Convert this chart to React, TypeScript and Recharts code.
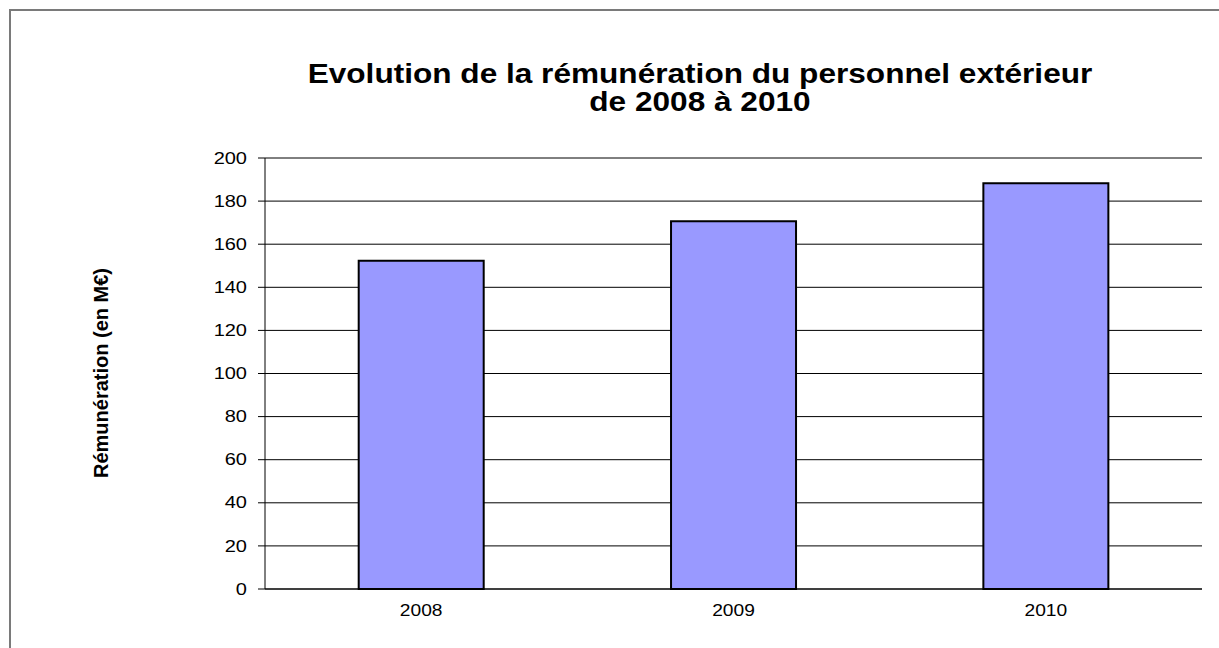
import { BarChart, Bar, XAxis, YAxis, CartesianGrid } from "recharts";

const YEARS = ["2008", "2009", "2010"];
const REMUNERATION = [152.3, 170.6, 188.3];
const Y_TICKS = [0, 20, 40, 60, 80, 100, 120, 140, 160, 180, 200];
const EDGE_TICKS = [0, 1, 2, 3];

const TITLE_LINES = ["Evolution de la rémunération du personnel extérieur", "de 2008 à 2010"];
const Y_LABEL = "Rémunération (en M€)";

const BAR_FILL = "#9999ff";
const FONT = "'Liberation Sans', Arial, sans-serif";

const data = YEARS.map((year, i) => ({ year, value: REMUNERATION[i], edge: i + 0.5 }));

// the reference's labels are a bit wider than plain Arial, so stretch them
function YTick(props: any) {
  const { x, y, payload } = props;
  return (
    <g transform={`translate(${x},${y}) scale(1.25,1)`}>
      <text textAnchor="end" dy="0.355em" fontSize={16} fontFamily={FONT} fill="#000">
        {payload.value}
      </text>
    </g>
  );
}

function XTick(props: any) {
  const { x, y, payload } = props;
  return (
    <g transform={`translate(${x},${y}) scale(1.2,1)`}>
      <text textAnchor="middle" dy="0.71em" fontSize={16} fontFamily={FONT} fill="#000">
        {payload.value}
      </text>
    </g>
  );
}

export default function App() {
  return (
    <div
      style={{
        position: "fixed",
        left: 0,
        top: 0,
        width: 1219,
        height: 648,
        overflow: "hidden",
        background: "#fff",
        fontFamily: FONT,
      }}
    >
      {/* frame of the original chart, cut off at right and bottom */}
      <div
        style={{
          position: "absolute",
          left: 9,
          top: 9,
          width: 1300,
          height: 700,
          borderTop: "2px solid #7a7a7a",
          borderLeft: "2px solid #7a7a7a",
        }}
      />
      <div
        style={{
          position: "absolute",
          left: 300,
          width: 800,
          top: 60,
          textAlign: "center",
          fontWeight: "bold",
          fontSize: 27,
          lineHeight: "28px",
          color: "#000",
          transform: "scaleX(1.17)",
          transformOrigin: "400px 0",
        }}
      >
        {TITLE_LINES.map((line) => (
          <div key={line}>{line}</div>
        ))}
      </div>
      <div
        style={{
          position: "absolute",
          left: 101,
          top: 373,
          transform: "translate(-50%, -50%) rotate(-90deg)",
          whiteSpace: "nowrap",
          fontWeight: "bold",
          fontSize: 20,
          color: "#000",
        }}
      >
        {Y_LABEL}
      </div>
      <div style={{ position: "absolute", left: 0, top: 0 }}>
        <BarChart
          width={1219}
          height={648}
          data={data}
          margin={{ top: 158, right: 17, bottom: 0, left: 0 }}
          barCategoryGap="30%"
        >
          <CartesianGrid vertical={false} stroke="#000" strokeWidth={1} />
          <XAxis
            xAxisId="edges"
            type="number"
            dataKey="edge"
            domain={[0, 3]}
            ticks={EDGE_TICKS}
            tick={false}
            axisLine={false}
            tickLine={{ stroke: "#000" }}
            tickSize={6}
            height={0}
          />
          <XAxis
            dataKey="year"
            height={59}
            tickLine={false}
            axisLine={{ stroke: "#000" }}
            tickMargin={10}
            tick={<XTick />}
          />
          <YAxis
            width={265}
            domain={[0, 200]}
            ticks={Y_TICKS}
            interval={0}
            tickSize={7}
            tickMargin={11}
            axisLine={{ stroke: "#000" }}
            tickLine={{ stroke: "#000" }}
            tick={<YTick />}
          />
          <Bar
            dataKey="value"
            fill={BAR_FILL}
            stroke="#000"
            strokeWidth={2}
            isAnimationActive={false}
          />
        </BarChart>
      </div>
    </div>
  );
}
